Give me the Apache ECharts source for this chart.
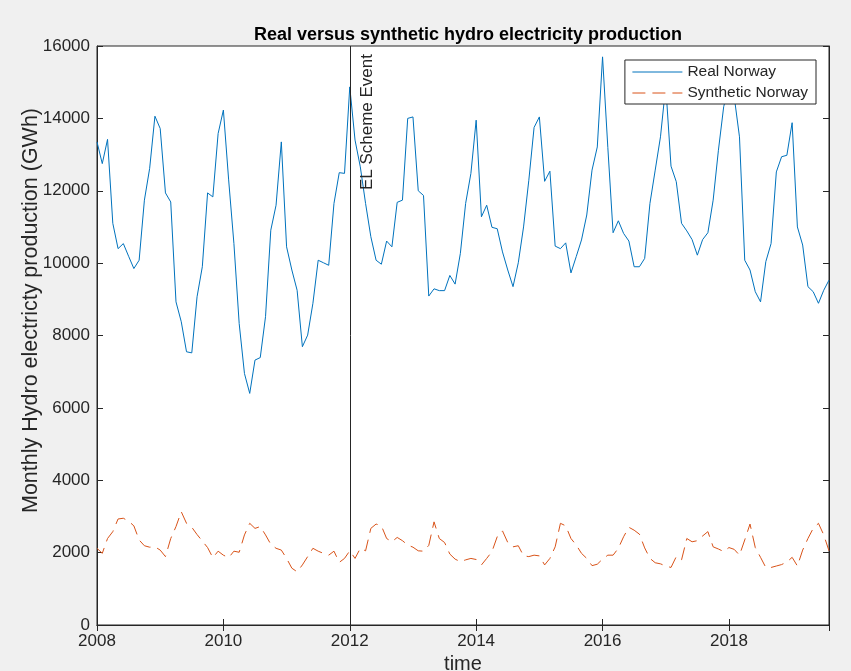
<!DOCTYPE html>
<html>
<head>
<meta charset="utf-8">
<script src="https://cdn.jsdelivr.net/npm/echarts@6/dist/echarts.min.js"></script>
<style>
html,body{margin:0;padding:0;background:#f0f0f0;}
#chart{width:851px;height:671px;}
</style>
</head>
<body>
<div id="chart"></div>
<script>
// Monthly data, Jan 2008 .. Aug 2019
const startYear = 2008;
const realNorway = [
  13350, 12750, 13420, 11100, 10400, 10540, 10190, 9850, 10080, 11740, 12620, 14060,
  13720, 11940, 11690, 8930, 8380, 7550, 7520, 9070, 9900, 11940, 11830, 13580,
  14230, 12300, 10540, 8330, 6950, 6400, 7320, 7390, 8520, 10910, 11600, 13350,
  10450, 9810, 9250, 7690, 8010, 8890, 10080, 10010, 9940, 11650, 12500, 12480,
  14870, 13400, 12660, 11650, 10730, 10080, 9970, 10610, 10450, 11680, 11740, 14000,
  14040, 12000, 11870, 9090, 9290, 9240, 9240, 9660, 9420, 10270, 11650, 12480,
  13950, 11280, 11600, 10990, 10950, 10310, 9810, 9350, 10010, 11000, 12290, 13750,
  14040, 12260, 12540, 10470, 10400, 10560, 9730, 10180, 10640, 11330, 12570, 13210,
  15700, 13200, 10840, 11170, 10820, 10610, 9900, 9900, 10130, 11650, 12570, 13490,
  14900, 12680, 12250, 11100, 10890, 10650, 10220, 10650, 10840, 11740, 13120, 14320,
  14900, 14600, 13490, 10080, 9810, 9210, 8930, 10040, 10540, 12520, 12940, 12980,
  13880, 11000, 10500, 9350, 9210, 8890, 9250, 9530
];
const syntheticNorway = [
  2120, 1980, 2390, 2580, 2930, 2950, 2870, 2740, 2350, 2190, 2150, 2160,
  2070, 1890, 2390, 2720, 3130, 2810, 2700, 2500, 2320, 2140, 1860, 2040,
  1930, 1860, 2040, 2010, 2490, 2810, 2670, 2720, 2490, 2230, 2120, 2070,
  1840, 1570, 1470, 1660, 1890, 2120, 2040, 1980, 1930, 2040, 1730, 1840,
  2050, 1840, 2120, 2050, 2670, 2790, 2740, 2390, 2300, 2420, 2330, 2210,
  2150, 2050, 2040, 2200, 2850, 2390, 2280, 1960, 1820, 1750, 1800, 1840,
  1810, 1660, 1840, 2030, 2440, 2600, 2280, 2160, 2190, 1910, 1890, 1930,
  1910, 1660, 1840, 2160, 2810, 2740, 2390, 2210, 1980, 1840, 1640, 1680,
  1820, 1930, 1930, 2120, 2440, 2700, 2620, 2510, 2130, 1840, 1720, 1690,
  1630, 1590, 1890, 1800, 2390, 2300, 2330, 2460, 2580, 2160, 2100, 2030,
  2140, 2090, 1930, 2350, 2790, 2140, 1870, 1590, 1590, 1630, 1670, 1740,
  1870, 1630, 2070, 2390, 2670, 2810, 2490, 2050
];
const eventYear = 2012;
const eventLabel = 'EL Scheme Event';
const yTicks = {min: 0, max: 16000, interval: 2000};
const xTicks = {min: 2008, interval: 2};

const xs = realNorway.map((_, i) => startYear + i / 12);
const xMax = xs[xs.length - 1];
const realData = realNorway.map((v, i) => [xs[i], v]);
const synthData = syntheticNorway.map((v, i) => [xs[i], v]);

const txt = '#262626';
const font = 'Liberation Sans, Arial, Helvetica, sans-serif';
const yearFmt = v => Math.abs(v - Math.round(v)) < 1e-6 ? String(Math.round(v)) : '';

const chart = echarts.init(document.getElementById('chart'), null, {renderer: 'canvas'});
chart.setOption({
  backgroundColor: '#f0f0f0',
  animation: false,
  textStyle: {fontFamily: font},
  title: {
    text: 'Real versus synthetic hydro electricity production',
    left: 463, top: 21, textAlign: 'center',
    textStyle: {fontSize: 18, fontWeight: 'bold', color: '#000', fontFamily: font}
  },
  legend: {
    right: 35, top: 60,
    orient: 'vertical',
    backgroundColor: '#fff',
    borderColor: txt, borderWidth: 1, borderRadius: 0,
    padding: [4, 8, 3, 7],
    itemWidth: 50, itemHeight: 12, itemGap: 5,
    itemStyle: {opacity: 0},
    lineStyle: {width: 1},
    textStyle: {fontSize: 15.5, color: txt, fontFamily: font},
    data: ['Real Norway', 'Synthetic Norway']
  },
  grid: {
    left: 97, right: 22, top: 46, bottom: 46,
    outerBoundsMode: 'none', containLabel: false,
    show: true, backgroundColor: '#fff', borderColor: txt, borderWidth: 1
  },
  xAxis: [{
    type: 'value', min: xTicks.min, max: xMax, interval: xTicks.interval,
    name: 'time', nameLocation: 'middle', nameGap: 29, nameMoveOverlap: false,
    nameTextStyle: {fontSize: 20, color: txt, fontFamily: font},
    axisLine: {show: true, lineStyle: {color: txt}},
    axisTick: {show: true, inside: true, length: 6, lineStyle: {color: txt}},
    axisLabel: {formatter: yearFmt, fontSize: 17, color: txt, margin: 8, fontFamily: font},
    splitLine: {show: false}
  }, {
    type: 'value', position: 'top', min: xTicks.min, max: xMax, interval: xTicks.interval,
    axisLine: {show: true, lineStyle: {color: txt}},
    axisTick: {show: true, inside: true, length: 6, lineStyle: {color: txt}},
    axisLabel: {show: false},
    splitLine: {show: false}
  }],
  yAxis: [{
    type: 'value', min: yTicks.min, max: yTicks.max, interval: yTicks.interval,
    name: 'Monthly Hydro electricty production (GWh)', nameLocation: 'middle', nameGap: 55,
    nameMoveOverlap: false,
    nameTextStyle: {fontSize: 21.5, color: txt, fontFamily: font, padding: [0, 0, 0, 50]},
    axisLine: {show: true, lineStyle: {color: txt}},
    axisTick: {show: true, inside: true, length: 6, lineStyle: {color: txt}},
    axisLabel: {formatter: v => String(v), fontSize: 17, color: txt, margin: 7, fontFamily: font},
    splitLine: {show: false}
  }, {
    type: 'value', position: 'right', min: yTicks.min, max: yTicks.max, interval: yTicks.interval,
    axisLine: {show: true, lineStyle: {color: txt}},
    axisTick: {show: true, inside: true, length: 6, lineStyle: {color: txt}},
    axisLabel: {show: false},
    splitLine: {show: false}
  }],
  series: [{
    name: 'Real Norway', type: 'line', data: realData,
    symbol: 'none', color: '#0072BD',
    lineStyle: {width: 1, color: '#0072BD'},
    markLine: {
      silent: true, symbol: 'none', animation: false,
      lineStyle: {color: txt, width: 1, type: 'solid'},
      label: {
        show: true, formatter: eventLabel, position: 'insideEndBottom',
        fontSize: 17, color: txt, distance: [8, 9], fontFamily: font
      },
      data: [{xAxis: eventYear}]
    }
  }, {
    name: 'Synthetic Norway', type: 'line', data: synthData,
    symbol: 'none', color: '#D95319',
    lineStyle: {width: 1, color: '#D95319', type: [13, 7]}
  }]
});
</script>
</body>
</html>
